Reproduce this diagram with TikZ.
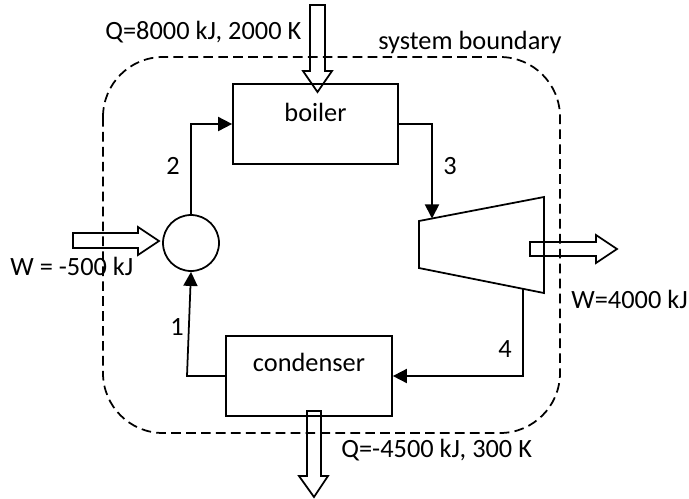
\documentclass[tikz,border=0pt]{standalone}
\usepackage{fontspec}
\setmainfont{Carlito}
\usetikzlibrary{arrows.meta, positioning}
\tikzset{
  unitbox/.style={draw, line width=1pt, minimum width=3.3cm, minimum height=1.6cm, inner sep=0pt},
  flow/.style={line width=1pt, -{Triangle[length=8pt, width=8pt]}},
  hollow/.style={draw, line width=1pt},
  boundary/.style={line width=1pt, dash pattern=on 5.5pt off 3pt, rounded corners=1.2cm},
  lbl/.style={font=\fontsize{15}{18}\selectfont, inner sep=0pt}
}
\begin{document}
\begin{tikzpicture}[x=0.02cm, y=-0.02cm]
\useasboundingbox (0,0) rectangle (689,498);
\node[unitbox] (boiler) at (315.5,124) {};
\node[lbl, anchor=base] (boilertxt) at ([yshift=-0.76cm]boiler.north) {boiler};
\node[unitbox, minimum width=3.32cm] (condenser) at (309,376) {};
\node[lbl, anchor=base] (condensertxt) at ([yshift=-0.72cm]condenser.north) {condenser};
\node[draw, circle, line width=1pt, minimum size=1.12cm, inner sep=0pt] (pump) at (191,243) {};
\draw[line width=1pt] (419,221) coordinate (tin) -- (544,197) -- (544,293) -- (419,268) coordinate (tout) -- cycle;
\coordinate (t3) at (432,218.5);
\coordinate (t4) at (523,289);
\coordinate (c1) at (187,376);
\draw[flow] (pump.north) |- (boiler.west);
\draw[flow] (boiler.east) -| (t3);
\draw[flow] (t4) |- (condenser.east);
\draw[flow] (condenser.west) -- (c1) -- (pump.south);
\node[lbl, anchor=base west] (s1) at (170,335) {1};
\node[lbl, anchor=base west] (s2) at (166,174) {2};
\node[lbl, anchor=base west] (s3) at (443,174) {3};
\node[lbl, anchor=base west] (s4) at (498,357) {4};
\draw[hollow] (310,5) -- (325,5) -- (325,71) -- (332,71) -- (317.5,92) -- (303,71) -- (310,71) -- cycle;
\draw[hollow] (73,233) -- (138,233) -- (138,227) -- (159,241) -- (138,255) -- (138,248) -- (73,248) -- cycle;
\draw[hollow] (530,242) -- (596,242) -- (596,235) -- (617,249) -- (596,263) -- (596,256) -- (530,256) -- cycle;
\draw[hollow] (307,411) -- (321,411) -- (321,476) -- (328,476) -- (314,497) -- (299,476) -- (307,476) -- cycle;
\node[lbl, anchor=base west] (qin) at (105,39) {Q=8000 kJ, 2000 K};
\node[lbl, anchor=base west] (win) at (10,275) {W = -500 kJ};
\node[lbl, anchor=base west] (wout) at (571,308) {W=4000 kJ};
\node[lbl, anchor=base west] (qout) at (341,457) {Q=-4500 kJ, 300 K};
\node[lbl, anchor=base west] (sysb) at (378,49) {system boundary};
\draw[boundary] (103,57) rectangle (560,433);
\end{tikzpicture}
\end{document}
